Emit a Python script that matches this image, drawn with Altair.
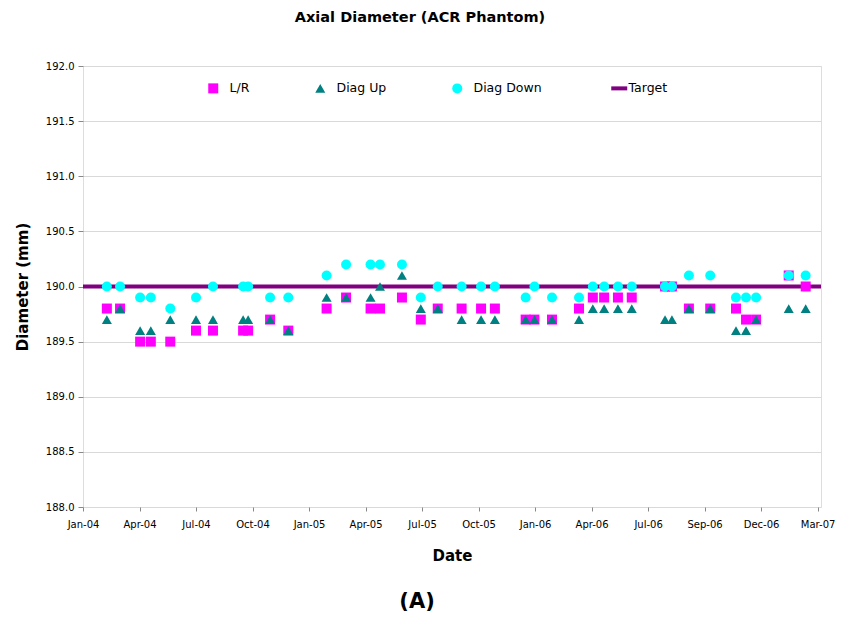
import altair as alt
import pandas as pd

# ---- data ----
DATES = [
    "2004-02-20", "2004-03-12", "2004-04-13", "2004-04-30", "2004-05-31",
    "2004-07-11", "2004-08-07", "2004-09-24", "2004-10-02", "2004-11-06",
    "2004-12-05", "2005-02-04", "2005-03-07", "2005-04-15", "2005-04-30",
    "2005-06-04", "2005-07-04", "2005-07-31", "2005-09-07", "2005-10-08",
    "2005-10-30", "2005-12-18", "2006-01-01", "2006-01-29", "2006-03-13",
    "2006-04-04", "2006-04-22", "2006-05-14", "2006-06-05", "2006-07-28",
    "2006-08-08", "2006-09-04", "2006-10-08", "2006-11-18", "2006-12-04",
    "2006-12-20", "2007-02-10", "2007-03-09",
]
LR = [189.8, 189.8, 189.5, 189.5, 189.5, 189.6, 189.6, 189.6, 189.6, 189.7,
      189.6, 189.8, 189.9, 189.8, 189.8, 189.9, 189.7, 189.8, 189.8, 189.8,
      189.8, 189.7, 189.7, 189.7, 189.8, 189.9, 189.9, 189.9, 189.9, 190.0,
      190.0, 189.8, 189.8, 189.8, 189.7, 189.7, 190.1, 190.0]
DIAG_UP = [189.7, 189.8, 189.6, 189.6, 189.7, 189.7, 189.7, 189.7, 189.7, 189.7,
           189.6, 189.9, 189.9, 189.9, 190.0, 190.1, 189.8, 189.8, 189.7, 189.7,
           189.7, 189.7, 189.7, 189.7, 189.7, 189.8, 189.8, 189.8, 189.8, 189.7,
           189.7, 189.8, 189.8, 189.6, 189.6, 189.7, 189.8, 189.8]
DIAG_DOWN = [190.0, 190.0, 189.9, 189.9, 189.8, 189.9, 190.0, 190.0, 190.0, 189.9,
             189.9, 190.1, 190.2, 190.2, 190.2, 190.2, 189.9, 190.0, 190.0, 190.0,
             190.0, 189.9, 190.0, 189.9, 189.9, 190.0, 190.0, 190.0, 190.0, 190.0,
             190.0, 190.1, 190.1, 189.9, 189.9, 189.9, 190.1, 190.1]
TARGET = [190.0]

SERIES = ["L/R", "Diag Up", "Diag Down", "Target"]
COLORS = ["#FF00FF", "#008080", "#00FFFF", "#800080"]
SHAPES = ["square", "triangle-up", "circle", "M-0.2,-0.4H3V0.4H-0.2Z"]

TICK_LABELS = ["Jan-04", "Apr-04", "Jul-04", "Oct-04", "Jan-05", "Apr-05", "Jul-05",
               "Oct-05", "Jan-06", "Apr-06", "Jul-06", "Sep-06", "Dec-06", "Mar-07"]
AXIS_START = "2004-01-13"
TICK_STEP_DAYS = 90
AXIS_SPAN_STEPS = 13.06
Y_TICKS = [188.0, 188.5, 189.0, 189.5, 190.0, 190.5, 191.0, 191.5, 192.0]

# ---- build tables ----
origin = pd.Timestamp(AXIS_START)
rows = []
for name, vals in [("L/R", LR), ("Diag Up", DIAG_UP), ("Diag Down", DIAG_DOWN)]:
    for d, v in zip(DATES, vals):
        rows.append({"series": name, "day": (pd.Timestamp(d) - origin).days, "value": v})
points_df = pd.DataFrame(rows)
target_df = pd.DataFrame({"series": ["Target"], "value": TARGET})
note_df = pd.DataFrame({"label": ["(A)"]})

tick_vals = [i * TICK_STEP_DAYS for i in range(len(TICK_LABELS))]
x_max = AXIS_SPAN_STEPS * TICK_STEP_DAYS
label_expr = "[" + ",".join("'%s'" % t for t in TICK_LABELS) + "][round(datum.value/%d)]" % TICK_STEP_DAYS

FONT = "DejaVu Sans"
W, H = 738, 441

color_scale = alt.Scale(domain=SERIES, range=COLORS)
shape_scale = alt.Scale(domain=SERIES, range=SHAPES)

y_scale = alt.Scale(domain=[188, 192], nice=False, zero=False)
x_scale = alt.Scale(domain=[0, x_max], nice=False, zero=False)

legend = alt.Legend(
    orient="none", legendX=124, legendY=16, direction="horizontal", title=None,
    symbolSize=100, labelFont=FONT, labelFontSize=12.5, labelColor="black",
    labelOffset=10, columnPadding=64, padding=0, symbolStrokeWidth=0,
    symbolOpacity=1,
)

x_axis = alt.Axis(
    values=tick_vals, labelExpr=label_expr, title="Date", grid=False, domain=False,
    tickSize=4, tickColor="#888888", labelFont=FONT, labelFontSize=10,
    labelColor="black", labelPadding=8, labelFlush=False, titleFont=FONT,
    titleFontSize=15, titleFontWeight="bold", titleColor="black", titlePadding=19,
)
y_axis = alt.Axis(
    values=Y_TICKS, format=".1f", title="Diameter (mm)", grid=True,
    gridColor="#d9d9d9", domain=False, tickSize=5, tickColor="#888888",
    labelFont=FONT, labelFontSize=10, labelColor="black", labelPadding=4,
    labelFlush=False,
    titleFont=FONT, titleFontSize=15, titleFontWeight="bold", titleColor="black",
    titleX=-61, titleY=H / 2, titleAngle=-90, titleAlign="center",
    titleBaseline="middle",
)

target = alt.Chart(target_df).mark_rule(strokeWidth=4, color=COLORS[3]).encode(
    y=alt.Y("value:Q", scale=y_scale, axis=y_axis),
)

points = alt.Chart(points_df).mark_point(filled=True, size=100, opacity=1).encode(
    x=alt.X("day:Q", scale=x_scale, axis=x_axis),
    y=alt.Y("value:Q", scale=y_scale, axis=y_axis),
    color=alt.Color("series:N", scale=color_scale, legend=legend),
    shape=alt.Shape("series:N", scale=shape_scale, legend=legend),
)

note = alt.Chart(note_df).mark_text(
    font=FONT, fontSize=21, fontWeight="bold", color="black",
    align="center", baseline="middle",
).encode(text="label:N", x=alt.value(334), y=alt.value(536))

chart = alt.layer(target, points, note).properties(
    width=W, height=H,
    autosize=alt.AutoSizeParams(type="none"),
    padding={"left": 75, "top": 58, "right": 20, "bottom": 106},
    title=alt.TitleParams(
        "Axial Diameter (ACR Phantom)", font=FONT, fontSize=14.5, fontWeight="bold",
        color="black", anchor="middle", dx=-32, offset=36,
    ),
).configure_view(stroke="#8c8c8c", strokeWidth=1.5).configure(background="white")

chart.save("out.html", embed_options={"renderer": "svg", "actions": False})
